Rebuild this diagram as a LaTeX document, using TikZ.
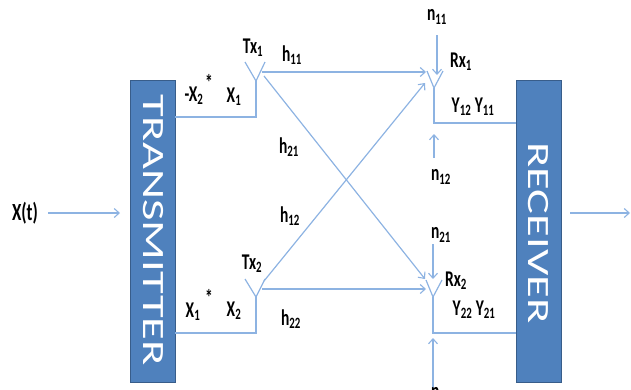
\documentclass[tikz,border=0pt]{standalone}
\usepackage{fontspec}
\setmainfont{Carlito}
\usetikzlibrary{arrows.meta}
\definecolor{boxblue}{HTML}{4F81BD}
\definecolor{boxedge}{HTML}{385D8A}
\definecolor{wirecol}{HTML}{8DB3E2}
\newcommand{\vstr}[1]{\scalebox{1}[1.45]{#1}}
\begin{document}
\begin{tikzpicture}[x=1pt,y=-1pt,
  wire/.style={draw=wirecol, line width=1.2pt},
  arr/.style={wire, -{Straight Barb[length=5pt,width=9pt,line width=1.1pt]}},
  lbl/.style={inner sep=0pt, font=\fontsize{15.5}{15.5}\selectfont\bfseries},
  blk/.style={draw=boxedge, fill=boxblue, line width=1pt, minimum width=45pt, minimum height=302pt, inner sep=0pt},
  blktext/.style={inner sep=0pt, text=white, font=\fontsize{31}{31}\selectfont}]
\useasboundingbox (0,0) rectangle (631,389);

% blocks
\node[blk] (tx) at (152.5,231) {};
\node[blktext] (txt) at (153,230) {\scalebox{1}[1.5]{\rotatebox{-90}{TRANSMITTER}}};
\node[blk] (rx) at (538.5,231) {};
\node[blktext] (rxt) at (538,233) {\scalebox{1}[1.5]{\rotatebox{-90}{RECEIVER}}};

% input / output
\node[lbl, font=\fontsize{17}{17}\selectfont\bfseries] (xt) at (25,213) {\vstr{X(t)}};
\coordinate (inend) at (120,213);
\draw[arr] ([xshift=10pt]xt.east) -- (inend);
\coordinate (outs) at (570,213);
\coordinate (oute) at (630,213);
\draw[arr] (outs) -- (oute);

% transmit antennas
\coordinate (t1v) at (256,81);
\coordinate (t1l) at (245,62);
\coordinate (t1r) at (265,62);
\coordinate (t1f) at (256,117);
\coordinate (t1s) at (175,117);
\draw[wire] (t1l) -- (t1v) -- (t1r);
\draw[wire] (t1s) -- (t1f) -- (t1v);

\coordinate (t2v) at (256,297);
\coordinate (t2l) at (245,279);
\coordinate (t2r) at (265,279);
\coordinate (t2f) at (256,333);
\coordinate (t2s) at (175,333);
\draw[wire] (t2l) -- (t2v) -- (t2r);
\draw[wire] (t2s) -- (t2f) -- (t2v);

% receive antennas
\coordinate (r1v) at (434,88);
\coordinate (r1l) at (427,71);
\coordinate (r1r) at (443,71);
\coordinate (r1f) at (434,123);
\coordinate (r1e) at (516,123);
\draw[wire] (r1l) -- (r1v) -- (r1r);
\draw[wire] (r1v) -- (r1f) -- (r1e);

\coordinate (r2v) at (433,297);
\coordinate (r2l) at (426,280);
\coordinate (r2r) at (442,280);
\coordinate (r2f) at (433,333);
\coordinate (r2e) at (516,333);
\draw[wire] (r2l) -- (r2v) -- (r2r);
\draw[wire] (r2v) -- (r2f) -- (r2e);

% channels
\coordinate (a11s) at (262,72);
\coordinate (a11e) at (426,72);
\coordinate (a21s) at (264,76);
\coordinate (a21e) at (425,279);
\coordinate (a22s) at (262,289);
\coordinate (a22e) at (426,289);
\coordinate (a12s) at (264,281);
\coordinate (a12e) at (425,83);
\draw[arr] (a11s) -- (a11e);
\draw[arr] (a21s) -- (a21e);
\draw[arr] (a22s) -- (a22e);
\draw[arr] (a12s) -- (a12e);

% noise arrows
\coordinate (n11s) at (437,35);
\coordinate (n11e) at (437,75);
\draw[arr] (n11s) -- (n11e);
\coordinate (n12s) at (434,158);
\coordinate (n12e) at (434,134);
\draw[arr] (n12s) -- (n12e);
\coordinate (n21s) at (433,244);
\coordinate (n21e) at (433,279);
\draw[arr] (n21s) -- (n21e);
\coordinate (n22s) at (433,389);
\coordinate (n22e) at (433,338);
\draw[arr] (n22s) -- (n22e);

% labels
\node[lbl] (ltx1) at (253,48) {\vstr{Tx\textsubscript{1}}};
\node[lbl] (ltx2) at (252,264) {\vstr{Tx\textsubscript{2}}};
\node[lbl] (lrx1) at (461,62) {\vstr{Rx\textsubscript{1}}};
\node[lbl] (lrx2) at (456,281) {\vstr{Rx\textsubscript{2}}};
\node[lbl] (ly1) at (473,107) {\vstr{Y\textsubscript{12} Y\textsubscript{11}}};
\node[lbl] (ly2) at (474,310) {\vstr{Y\textsubscript{22} Y\textsubscript{21}}};
\node[lbl] (lh11) at (292,55) {\vstr{h\textsubscript{11}}};
\node[lbl] (lh21) at (289,147) {\vstr{h\textsubscript{21}}};
\node[lbl] (lh12) at (290,216) {\vstr{h\textsubscript{12}}};
\node[lbl] (lh22) at (291,319) {\vstr{h\textsubscript{22}}};
\node[lbl] (ln11) at (437,17) {\vstr{n\textsubscript{11}}};
\node[lbl] (ln12) at (441,177) {\vstr{n\textsubscript{12}}};
\node[lbl] (ln21) at (441,235) {\vstr{n\textsubscript{21}}};
\node[lbl, anchor=north] (ln22) at (441,387) {\vstr{n\textsubscript{22}}};
\node[lbl] (lx2m) at (194,96) {\vstr{-X\textsubscript{2}}};
\node[lbl] (ls1) at (209,82) {\vstr{*}};
\node[lbl] (lx1) at (234,97) {\vstr{X\textsubscript{1}}};
\node[lbl] (lx1c) at (193,312) {\vstr{X\textsubscript{1}}};
\node[lbl] (ls2) at (209,297) {\vstr{*}};
\node[lbl] (lx2) at (234,311) {\vstr{X\textsubscript{2}}};
\end{tikzpicture}
\end{document}
